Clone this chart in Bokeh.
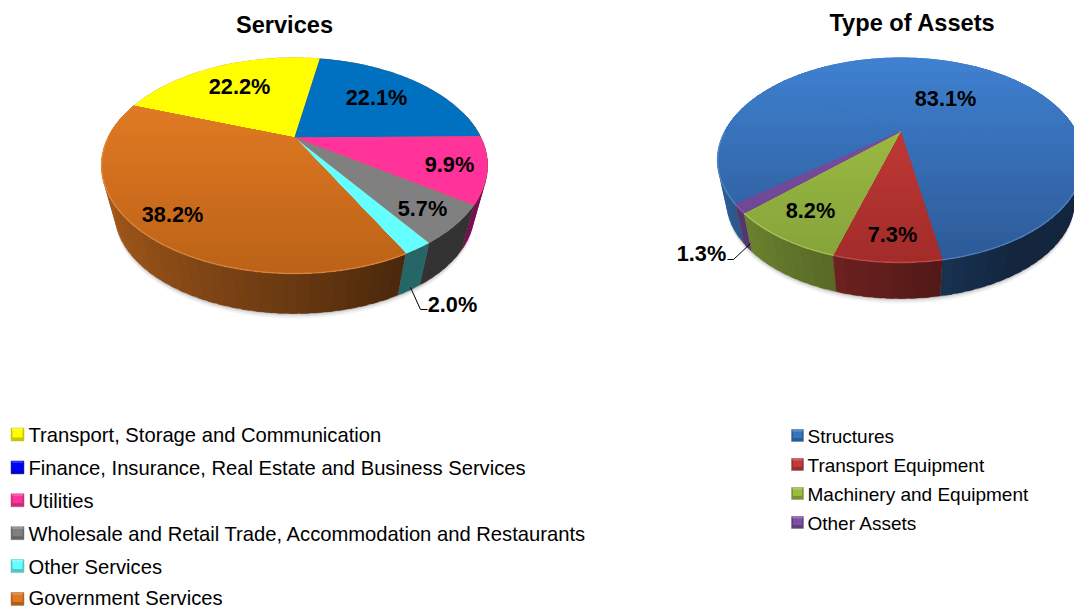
import math
from bokeh.plotting import figure
from bokeh.embed import file_html
from bokeh.resources import INLINE
from bokeh.core.properties import value

# ---- data ----
services_names = ["Transport, Storage and Communication",
                  "Finance, Insurance, Real Estate and Business Services",
                  "Utilities",
                  "Wholesale and Retail Trade, Accommodation and Restaurants",
                  "Other Services", "Government Services"]
services_values = [22.2, 22.1, 9.9, 5.7, 2.0, 38.2]
assets_names = ["Structures", "Transport Equipment", "Machinery and Equipment", "Other Assets"]
assets_values = [83.1, 7.3, 8.2, 1.3]

# ---- style ----
FONT = "Liberation Sans"
W, H = 1074, 609

services_style = dict(
    cx=294, cy=137, up=80, down=136, rx=193, depth=40, shrink=0.93, start=-70.0,
    top=[("#FFFF00", "#FFFF00"), ("#0070C0", "#0070C0"), ("#FF3399", "#FF3399"),
         ("#808080", "#808080"), ("#66FFFF", "#66FFFF"), ("#EA7F26", "#BC6317")],
    side=["#7F7F00", "#003860", "#7A1050", "#333333", "#266666", None],
    rim=[None, None, None, None, None, "#F0A060"],
    side_f=(0.44, -0.27, 0.3),
    labels=[(239, 86), (376, 97), (449, 164), (422, 208), (452, 304), (172, 214)],
    leader=([410, 420, 427], [287, 309, 309]),
)
assets_style = dict(
    cx=900, cy=131, up=74, down=131, rx=183, depth=36, shrink=0.95, start=230.6,
    top=[("#3F80D0", "#2D5A97"), ("#CE3F3B", "#A32C2A"), ("#A4C547", "#85A339"), ("#7F52A6", "#6A4490")],
    side=[None, None, None, None],
    rim=["#6FA0E0", "#D86A66", "#BFD97A", "#9A78BC"],
    side_f=(0.44, -0.3, 0.3),
    labels=[(945, 98), (892, 234), (810, 210), (701, 253)],
    leader=([750, 733, 727], [243, 259, 259]),
)


def hex2rgb(c):
    return tuple(int(c[i:i + 2], 16) for i in (1, 3, 5))


def rgb2hex(t):
    return "#%02X%02X%02X" % tuple(max(0, min(255, round(v))) for v in t)


def lerp(a, b, t):
    ra, rb = hex2rgb(a), hex2rgb(b)
    return rgb2hex([ra[i] + (rb[i] - ra[i]) * t for i in range(3)])


def make_projector(st):
    k = (st["down"] - st["up"]) / (st["down"] + st["up"])
    B = st["down"] * (1 - k)
    A = st["rx"] * math.sqrt(1 - k * k)

    def project(deg, scale=1.0, dy=0.0):
        t = math.radians(deg)
        X, Y = math.sin(t), -math.cos(t)
        w = 1 - k * Y
        return st["cx"] + scale * A * X / w, st["cy"] + dy + scale * B * Y / w, X, Y

    return project


def clip_below(xs, ys, yc):
    ox, oy = [], []
    n = len(xs)
    for i in range(n):
        x0, y0, x1, y1 = xs[i], ys[i], xs[(i + 1) % n], ys[(i + 1) % n]
        if y0 >= yc:
            ox.append(x0)
            oy.append(y0)
        if (y0 >= yc) != (y1 >= yc):
            t = (yc - y0) / (y1 - y0)
            ox.append(x0 + (x1 - x0) * t)
            oy.append(yc)
    return ox, oy


p = figure(width=W, height=H, x_range=(0, W), y_range=(H, 0), output_backend="svg",
           toolbar_location=None, min_border=0, background_fill_color="white",
           border_fill_color="white", outline_line_color=None)
p.axis.visible = False
p.grid.visible = False
p.styles = {"position": "absolute", "left": "0px", "top": "0px"}


def draw_pie(vals, st):
    proj = make_projector(st)
    total = sum(vals)
    spans, a = [], st["start"]
    for v in vals:
        spans.append((a, a + v / total * 360))
        a = spans[-1][1]
    dy_b = st["cy"] + st["depth"] + st["down"] * (1 - st["shrink"])
    dy = dy_b - st["cy"]
    s = st["shrink"]

    # soft shadow below the body
    sh = [proj(d, s * 1.0, dy) for d in range(0, 360, 3)]
    for grow, alpha in ((5, 0.05), (3, 0.07), (1.5, 0.09)):
        p.patch([q[0] for q in sh], [q[1] + grow for q in sh], fill_color="#000000",
                fill_alpha=alpha, line_color=None)

    # sides, shaded by horizontal position
    order = sorted(range(len(vals)), key=lambda i: -abs(((sum(spans[i]) / 2) % 360) - 180))
    xs, ys, cs = [], [], []
    f0, f1, fmin = st["side_f"]
    step = 3
    for i in order:
        a0, a1 = spans[i]
        base = st["top"][i][0]
        n = max(1, int(math.ceil((a1 - a0) / step)))
        for j in range(n):
            d0 = a0 + (a1 - a0) * j / n
            d1 = a0 + (a1 - a0) * min(n, j + 1.6) / n
            mid = proj((d0 + d1) / 2)
            if mid[3] < -0.25:
                continue
            m = 8
            dd = [d0 + (d1 - d0) * q / m for q in range(m + 1)]
            topa = [proj(d) for d in dd]
            bota = [proj(d, s, dy) for d in dd][::-1]
            xs.append([q[0] for q in topa] + [q[0] for q in bota])
            ys.append([q[1] for q in topa] + [q[1] for q in bota])
            if st["side"][i]:
                cs.append(st["side"][i])
            else:
                fac = max(fmin, f0 + f1 * mid[2])
                cs.append(rgb2hex([v * fac for v in hex2rgb(base)]))
    p.patches(xs, ys, fill_color=cs, line_color=cs, line_width=0.4)

    # top faces, banded vertically to follow the gradient
    ytop, ybot = st["cy"] - st["up"], st["cy"] + st["down"]
    xs, ys, cs = [], [], []
    bands = 28
    largest = max(range(len(vals)), key=lambda i: vals[i])
    under = lerp(st["top"][largest][0], st["top"][largest][1], 0.5)
    ring = [proj(d) for d in range(0, 360, 2)]
    p.patch([q[0] for q in ring], [q[1] for q in ring], fill_color=under, line_color=None)
    for i, (a0, a1) in enumerate(spans):
        c0, c1 = st["top"][i]
        # wide slices are cut into convex wedges so that band clipping stays clean
        pieces = max(1, int(math.ceil((a1 - a0) / 80)))
        for w in range(pieces):
            b0 = a0 + (a1 - a0) * w / pieces
            b1 = a0 + (a1 - a0) * (w + 1) / pieces
            if w < pieces - 1:
                b1 += 1.0
            n = max(2, int(b1 - b0))
            pts = [proj(b0 + (b1 - b0) * q / n) for q in range(n + 1)]
            px = [st["cx"]] + [q[0] for q in pts]
            py = [st["cy"]] + [q[1] for q in pts]
            if c0 == c1:
                xs.append(px); ys.append(py); cs.append(c0)
                continue
            for b in range(bands):
                yc = ytop + (ybot - ytop) * b / bands
                qx, qy = clip_below(px, py, yc)
                if len(qx) >= 3:
                    xs.append(qx); ys.append(qy); cs.append(lerp(c0, c1, b / (bands - 1)))
    p.patches(xs, ys, fill_color=cs, line_color=None)

    # lighter rim on the front edge, one line per visible run of the arc
    for i, (a0, a1) in enumerate(spans):
        if st["rim"][i]:
            n = max(2, int(a1 - a0))
            run = []
            for q in range(n + 2):
                pt = proj(a0 + (a1 - a0) * q / n) if q <= n else None
                if pt is not None and pt[3] > 0.0:
                    run.append(pt)
                elif run:
                    p.line([r[0] for r in run], [r[1] for r in run], line_color=st["rim"][i],
                           line_width=1.5, line_alpha=0.5)
                    run = []

    # leader and value labels
    p.line(st["leader"][0], st["leader"][1], line_color="#000000", line_width=1)
    p.text([q[0] for q in st["labels"]], [q[1] for q in st["labels"]],
           text=["%.1f%%" % v for v in vals], text_font=value(FONT), text_font_size="21.7px",
           text_font_style="bold", text_align="center", text_baseline="middle", text_color="#000000")


def draw_legend(names, colors, x_sq, x_txt, y0, gap, size, fs, sq_dy, max_text_y):
    for i, (n, c) in enumerate(zip(names, colors)):
        y = y0 + gap * i
        ys = y + sq_dy
        dark = lerp(c, "#000000", 0.22)
        light = lerp(c, "#FFFFFF", 0.18)
        p.rect([x_sq], [ys], width=size, height=size, fill_color=dark, line_color=lerp(c, "#808080", 0.5), line_width=0.5)
        p.rect([x_sq], [ys - 1], width=size - 3, height=size - 5, fill_color=c, line_color=None)
        p.rect([x_sq], [ys - size / 2 + 1.2], width=size - 2, height=2, fill_color=light, line_color=None)
        p.text([x_txt], [min(y - 0.5, max_text_y)], text=[n], text_font=value(FONT), text_font_size=fs,
               text_align="left", text_baseline="middle", text_color="#000000")


draw_pie(services_values, services_style)
draw_pie(assets_values, assets_style)

p.text([284, 912], [24.5, 22.5], text=["Services", "Type of Assets"], text_font=value(FONT),
       text_font_size="23.6px", text_font_style="bold", text_align="center",
       text_baseline="middle", text_color="#000000")

draw_legend(services_names, ["#FFFF00", "#0000FF", "#FF3399", "#808080", "#66FFFF", "#E07820"],
            17, 28, 435, 32.9, 13, "20.2px", -1, 597)
draw_legend(assets_names, ["#3575C0", "#C23A38", "#9ABB42", "#7B50A0"],
            797, 807, 436, 29, 12, "19px", -1, 600)

open("out.html", "w").write(file_html(p, INLINE))
